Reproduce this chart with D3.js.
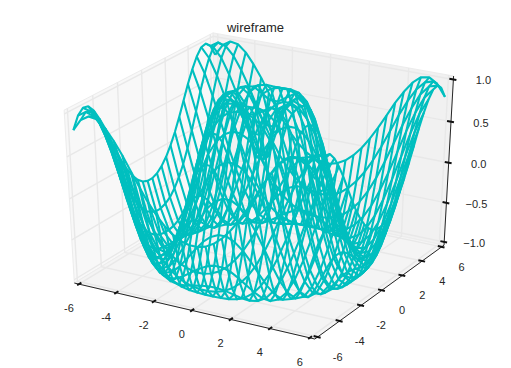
<!DOCTYPE html>
<html>
<head>
<meta charset="utf-8">
<script src="https://cdn.jsdelivr.net/npm/d3@7"></script>
<style>
    html, body { margin: 0; padding: 0; background: #fff; }
    text { font-family: "Liberation Sans", Arial, sans-serif; fill: #262626; }
</style>
</head>
<body>
<div id="chart"></div>
<script>
// grid positions from the centre out, the surface is the same in all four quadrants
const gridHalf = [0.207, 0.621, 1.034, 1.448, 1.862, 2.276, 2.690, 3.103, 3.517, 3.931, 4.345, 4.759, 5.172, 5.586, 6.0];

// z read for one quadrant, rows and columns follow gridHalf
const zQuadrant = [
    [0.288, 0.608, 0.870, 0.994, 0.954, 0.756, 0.430, 0.031, -0.373, -0.714, -0.935, -0.999, -0.893, -0.638, -0.276],
    [0.608, 0.769, 0.934, 1.000, 0.924, 0.705, 0.373, -0.023, -0.418, -0.745, -0.949, -0.996, -0.878, -0.613, -0.249],
    [0.870, 0.934, 0.994, 0.978, 0.848, 0.598, 0.258, -0.129, -0.501, -0.800, -0.970, -0.987, -0.847, -0.567, -0.194],
    [0.994, 1.000, 0.978, 0.888, 0.705, 0.430, 0.087, -0.280, -0.616, -0.868, -0.991, -0.966, -0.790, -0.488, -0.111],
    [0.954, 0.924, 0.848, 0.705, 0.487, 0.200, -0.129, -0.459, -0.745, -0.935, -1.000, -0.923, -0.706, -0.382, -0.001],
    [0.756, 0.705, 0.598, 0.430, 0.200, -0.077, -0.373, -0.650, -0.868, -0.986, -0.981, -0.847, -0.590, -0.249, 0.132],
    [0.430, 0.373, 0.258, 0.087, -0.129, -0.373, -0.616, -0.823, -0.959, -0.999, -0.923, -0.729, -0.439, -0.083, 0.287],
    [0.031, -0.023, -0.129, -0.280, -0.459, -0.650, -0.823, -0.949, -0.999, -0.956, -0.810, -0.567, -0.249, 0.106, 0.456],
    [-0.373, -0.418, -0.501, -0.616, -0.745, -0.868, -0.959, -0.999, -0.966, -0.847, -0.638, -0.355, -0.028, 0.312, 0.627],
    [-0.714, -0.745, -0.800, -0.868, -0.935, -0.986, -0.999, -0.956, -0.847, -0.662, -0.410, -0.111, 0.213, 0.525, 0.775],
    [-0.935, -0.949, -0.970, -0.991, -1.000, -0.981, -0.923, -0.810, -0.638, -0.410, -0.138, 0.159, 0.456, 0.713, 0.901],
    [-0.999, -0.996, -0.987, -0.966, -0.923, -0.847, -0.729, -0.567, -0.355, -0.111, 0.159, 0.435, 0.675, 0.870, 0.983],
    [-0.893, -0.878, -0.847, -0.790, -0.706, -0.590, -0.439, -0.249, -0.028, 0.213, 0.456, 0.675, 0.859, 0.970, 0.998],
    [-0.638, -0.613, -0.567, -0.488, -0.382, -0.249, -0.083, 0.106, 0.312, 0.525, 0.713, 0.870, 0.970, 0.999, 0.939],
    [-0.276, -0.249, -0.194, -0.111, -0.001, 0.132, 0.287, 0.456, 0.627, 0.775, 0.901, 0.983, 0.998, 0.939, 0.804]
];

const xTicks = [-6, -4, -2, 0, 2, 4, 6];
const yTicks = [-6, -4, -2, 0, 2, 4, 6];
const zTicks = [-1, -0.5, 0, 0.5, 1];

const width = 511, height = 368;

const svg = d3.select("#chart").append("svg")
    .attr("width", width)
    .attr("height", height)
    .style("display", "block");

// data -> unit cube
const xWorld = d3.scaleLinear().domain([-6, 6]).range([0, 1]);
const yWorld = d3.scaleLinear().domain([-6, 6]).range([0, 1]);
const zWorld = d3.scaleLinear().domain([-1, 1]).range([0, 1]);

// projected plane -> pixels
const xScreen = d3.scaleLinear().domain([-0.095, 0.09]).range([9, 502]);
const yScreen = d3.scaleLinear().domain([-0.095, 0.09]).range([360.5, 10]);

// camera: azimuth -60, elevation 30, distance 10
const azim = -60 * Math.PI / 180, elev = 30 * Math.PI / 180, dist = 10;
const n = [Math.cos(elev) * Math.cos(azim), Math.cos(elev) * Math.sin(azim), Math.sin(elev)];
const u = [-Math.sin(azim), Math.cos(azim), 0];
const v = [n[1] * u[2] - n[2] * u[1], n[2] * u[0] - n[0] * u[2], n[0] * u[1] - n[1] * u[0]];
const dot = (a, b) => a[0] * b[0] + a[1] * b[1] + a[2] * b[2];

function project(w) {
    let q = [w[0] - 0.5, w[1] - 0.5, w[2] - 0.5];
    let depth = dist - dot(n, q);
    return [xScreen(dot(u, q) / depth), yScreen(dot(v, q) / depth)];
}

const lo = -1 / 48, hi = 1 + 1 / 48;
const line = d3.line();
const path3d = pts => line(pts.map(project));

// panes
const panes = [
    {fill: "#f8f8f8", pts: [[lo, lo, lo], [lo, hi, lo], [lo, hi, hi], [lo, lo, hi]]},
    {fill: "#f1f1f1", pts: [[lo, hi, lo], [hi, hi, lo], [hi, hi, hi], [lo, hi, hi]]},
    {fill: "#f4f4f4", pts: [[lo, lo, lo], [hi, lo, lo], [hi, hi, lo], [lo, hi, lo]]}
];
svg.append("g").selectAll("path").data(panes).join("path")
    .attr("d", d => path3d(d.pts) + "Z")
    .attr("fill", d => d.fill)
    .attr("stroke", "#ececec")
    .attr("stroke-width", 1);

// grid lines
let gridLines = [];
xTicks.forEach(t => {
    let w = xWorld(t);
    gridLines.push([[w, lo, lo], [w, hi, lo], [w, hi, hi]]);
});
yTicks.forEach(t => {
    let w = yWorld(t);
    gridLines.push([[hi, w, lo], [lo, w, lo], [lo, w, hi]]);
});
zTicks.forEach(t => {
    let w = zWorld(t);
    gridLines.push([[lo, lo, w], [lo, hi, w], [hi, hi, w]]);
});
svg.append("g").selectAll("path").data(gridLines).join("path")
    .attr("d", path3d)
    .attr("fill", "none")
    .attr("stroke", "#e8e8e8")
    .attr("stroke-width", 1.4);

// axis lines
const axisLines = [
    [[lo, lo, lo], [hi, lo, lo]],
    [[hi, lo, lo], [hi, hi, lo]],
    [[hi, hi, lo], [hi, hi, hi]]
];
svg.append("g").selectAll("path").data(axisLines).join("path")
    .attr("d", path3d)
    .attr("fill", "none")
    .attr("stroke", "#262626")
    .attr("stroke-width", 1);

// tick marks
const tickIn = 0.2 / 12, tickOut = 0.15 / 12;
let tickMarks = [];
xTicks.forEach(t => tickMarks.push([[xWorld(t), lo + tickIn, lo], [xWorld(t), lo - tickOut, lo]]));
yTicks.forEach(t => tickMarks.push([[hi - tickIn, yWorld(t), lo], [hi + tickOut, yWorld(t), lo]]));
zTicks.forEach(t => tickMarks.push([[hi - tickIn, hi, zWorld(t)], [hi + tickOut, hi, zWorld(t)]]));
svg.append("g").selectAll("path").data(tickMarks).join("path")
    .attr("d", path3d)
    .attr("fill", "none")
    .attr("stroke", "#111")
    .attr("stroke-width", 2);

// wireframe, both families of lines
const grid = gridHalf.slice().reverse().map(d => -d).concat(gridHalf);
const fold = i => i < 15 ? 14 - i : i - 15;
const zAt = (i, j) => zQuadrant[fold(i)][fold(j)];

let wires = [];
grid.forEach((gx, i) => wires.push(grid.map((gy, j) => [xWorld(gx), yWorld(gy), zWorld(zAt(i, j))])));
grid.forEach((gy, j) => wires.push(grid.map((gx, i) => [xWorld(gx), yWorld(gy), zWorld(zAt(i, j))])));

svg.append("g").selectAll("path").data(wires).join("path")
    .attr("d", path3d)
    .attr("fill", "none")
    .attr("stroke", "#00bfbf")
    .attr("stroke-width", 2.1)
    .attr("stroke-linejoin", "round");

// tick labels
function addLabels(ticks, toWorld, fmt, dx, dy) {
    svg.append("g").selectAll("text").data(ticks).join("text")
        .attr("x", d => project(toWorld(d))[0] + dx)
        .attr("y", d => project(toWorld(d))[1] + dy)
        .attr("text-anchor", "middle")
        .attr("dy", "0.35em")
        .attr("font-size", 11)
        .text(fmt);
}
addLabels(xTicks, t => [xWorld(t), lo, lo], d => d, -10, 24);
addLabels(yTicks, t => [hi, yWorld(t), lo], d => d, 20, 20);
addLabels(zTicks, t => [hi, hi, zWorld(t)], d3.format(".1f"), 30, 1);

svg.append("text")
    .attr("x", 255.5)
    .attr("y", 27)
    .attr("text-anchor", "middle")
    .attr("dy", "0.35em")
    .attr("font-size", 13)
    .text("wireframe");
</script>
</body>
</html>
